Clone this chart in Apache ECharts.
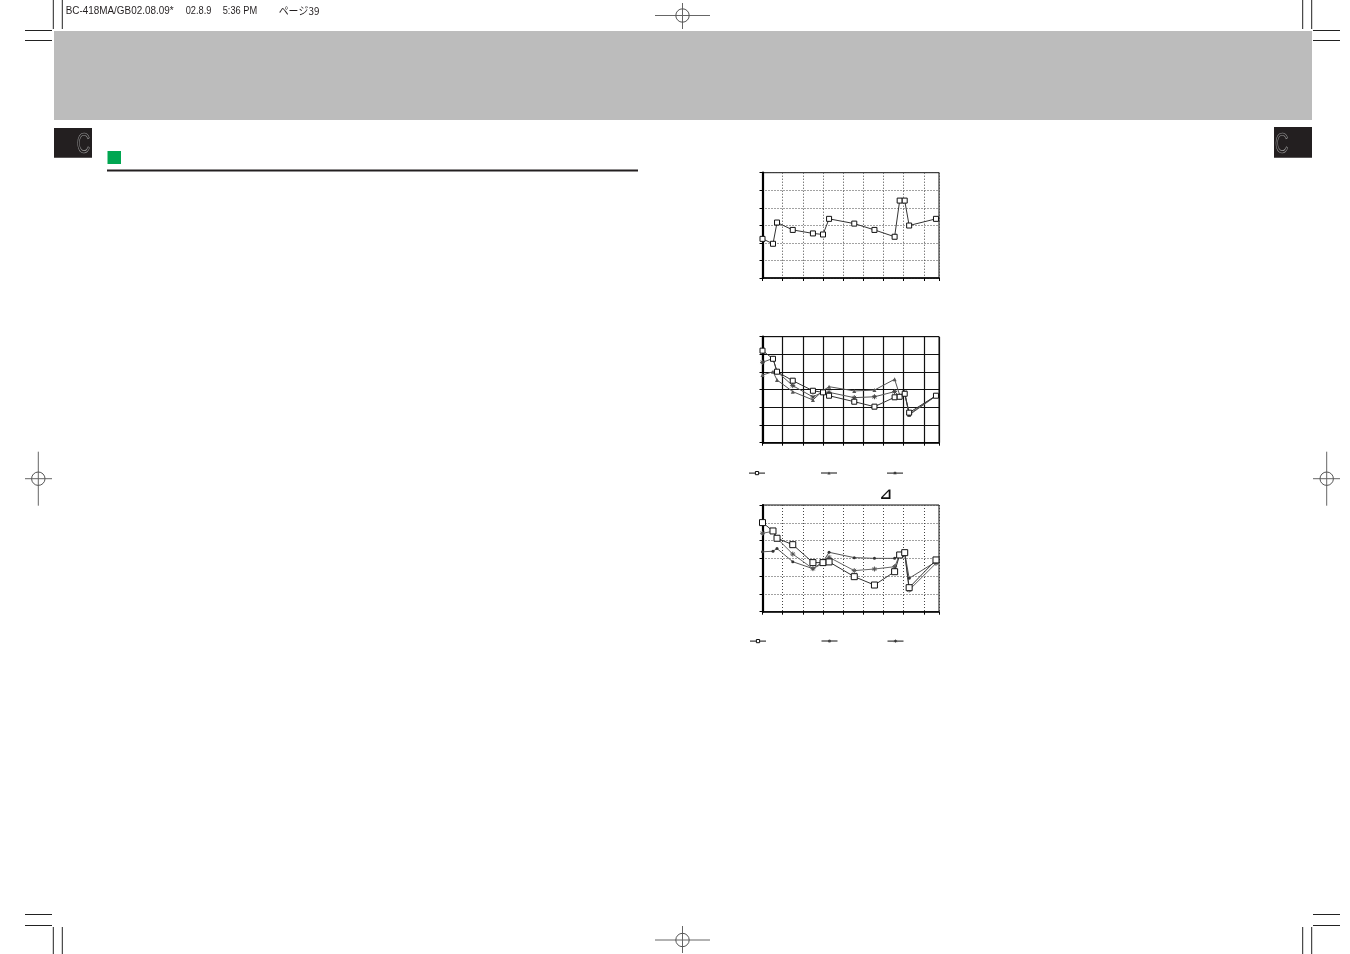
<!DOCTYPE html>
<html><head><meta charset="utf-8">
<script src="https://cdn.jsdelivr.net/npm/echarts@6/dist/echarts.min.js"></script>
<style>html,body{margin:0;padding:0;background:#fff;}#c{width:1350px;height:954px;}</style>
</head><body><div id="c"></div>
<script>
// ---- data ----
const xPositions = [0, 0.52, 0.72, 1.5, 2.5, 3.0, 3.3, 4.55, 5.55, 6.55, 6.8, 7.05, 7.27, 8.6];
const xTicks = [0, 1, 2, 3, 4, 5, 6, 7, 8];
const yTicks = [0, 1, 2, 3, 4, 5, 6];

const chart1Values = [2.23, 1.95, 3.16, 2.74, 2.54, 2.48, 3.37, 3.10, 2.74, 2.35, 4.41, 4.41, 2.99, 3.37];

const chart2SquareValues = [5.21, 4.75, 4.02, 3.51, 2.94, 2.85, 2.66, 2.32, 2.04, 2.57, 2.60, 2.77, 1.70, 2.66];
const chart2PlusValues   = [3.83, 4.02, 3.55, 2.89, 2.42, 2.95, 3.17, 2.93, 2.98, 3.59, 2.70, 2.80, 1.57, 2.64];
const chart2CrossValues  = [4.55, 4.77, 4.02, 3.23, 2.59, 2.88, 2.85, 2.55, 2.60, 2.89, 2.60, 2.85, 1.61, 2.66];

const chart3SquareValues = [5.01, 4.54, 4.13, 3.77, 2.76, 2.76, 2.80, 1.97, 1.50, 2.25, 3.19, 3.32, 1.35, 2.91];
const chart3DotValues    = [3.37, 3.40, 3.55, 2.81, 2.42, 2.81, 3.34, 3.04, 3.00, 3.00, 3.23, 3.32, 1.88, 2.81];
const chart3CrossValues  = [4.41, 4.52, 4.13, 3.24, 2.42, 2.72, 3.06, 2.31, 2.40, 2.53, 3.19, 3.29, 1.22, 2.72];

const headerTexts = ['BC-418MA/GB02.08.09*', '02.8.9', '5:36 PM', 'ページ39'];
const chapterLetter = 'C';
const deltaMark = '⊿';

// ---- build ----
const pts = vals => vals.map((v, i) => [xPositions[i], v]);
const xMin = xTicks[0], xMax = 8.75, yMin = yTicks[0], yMax = yTicks[yTicks.length - 1];

const grids = [
  {left: 762.5, top: 172.7, width: 176.5, height: 105.3},
  {left: 762.5, top: 336.7, width: 176.5, height: 106},
  {left: 762.5, top: 505,   width: 176.5, height: 106.7}
].map(g => Object.assign(g, {show: true, borderColor: '#111', borderWidth: 1, backgroundColor: 'transparent'}));

const dotted = {color: '#444', width: 1, type: [1, 2]};
const solid = {color: '#111', width: 1.2, type: 'solid'};
const splitStyles = [dotted, solid, dotted];

const xAxes = splitStyles.map((s, i) => ({
  gridIndex: i, type: 'value', min: xMin, max: xMax, interval: 1,
  axisLine: {show: true, onZero: false, lineStyle: {color: '#000', width: 1.5}},
  axisTick: {show: true, inside: false, length: 3, lineStyle: {color: '#000', width: 1}},
  axisLabel: {show: false},
  splitLine: {show: true, lineStyle: s}
}));
const yAxes = splitStyles.map((s, i) => ({
  gridIndex: i, type: 'value', min: yMin, max: yMax, interval: 1,
  axisLine: {show: true, onZero: false, lineStyle: {color: '#000', width: 2.2}},
  axisTick: {show: true, inside: false, length: 3, lineStyle: {color: '#000', width: 1}},
  axisLabel: {show: false},
  splitLine: {show: true, lineStyle: s}
}));

const squareSym = (size, z) => ({
  symbol: 'rect', symbolSize: size,
  itemStyle: {color: '#fff', borderColor: '#111', borderWidth: 1},
  lineStyle: {color: '#333', width: 1}, z: z
});
const triPath = 'path://M0,10 L5,0 L10,10 Z';
const crossPath = 'path://M5,0 L5,10 M0,5 L10,5 M1.5,1.5 L8.5,8.5 M8.5,1.5 L1.5,8.5';

const series = [
  Object.assign({name: 's1', type: 'line', xAxisIndex: 0, yAxisIndex: 0, data: pts(chart1Values)}, squareSym(5, 5)),

  {name: 'c2plus', type: 'line', xAxisIndex: 1, yAxisIndex: 1, data: pts(chart2PlusValues),
   symbol: triPath, symbolSize: 4, itemStyle: {color: '#555'}, lineStyle: {color: '#555', width: 1}, z: 3},
  {name: 'c2cross', type: 'line', xAxisIndex: 1, yAxisIndex: 1, data: pts(chart2CrossValues),
   symbol: crossPath, symbolSize: 5, itemStyle: {color: 'none', borderColor: '#444', borderWidth: 1}, lineStyle: {color: '#555', width: 1}, z: 3},
  Object.assign({name: 'c2sq', type: 'line', xAxisIndex: 1, yAxisIndex: 1, data: pts(chart2SquareValues)}, squareSym(5, 5)),

  {name: 'c3dot', type: 'line', xAxisIndex: 2, yAxisIndex: 2, data: pts(chart3DotValues),
   symbol: 'circle', symbolSize: 3, itemStyle: {color: '#333'}, lineStyle: {color: '#555', width: 1}, z: 3},
  {name: 'c3cross', type: 'line', xAxisIndex: 2, yAxisIndex: 2, data: pts(chart3CrossValues),
   symbol: crossPath, symbolSize: 5, itemStyle: {color: 'none', borderColor: '#555', borderWidth: 1}, lineStyle: {color: '#666', width: 1}, z: 3},
  Object.assign({name: 'c3sq', type: 'line', xAxisIndex: 2, yAxisIndex: 2, data: pts(chart3SquareValues)}, squareSym(6, 5))
];
series.forEach(s => { s.animation = false; });

const legendDef = (name, cx, cy, itemStyle) => ({
  data: [name], left: cx - 8, top: cy - 2, itemWidth: 16, itemHeight: 4,
  padding: 0, itemGap: 0, formatter: () => '', selectedMode: false,
  lineStyle: {color: '#111', width: 1},
  itemStyle: itemStyle
});
const sqLegendStyle = {color: '#fff', borderColor: '#111', borderWidth: 1};
const crossLegendStyle = {color: 'none', borderColor: '#333', borderWidth: 0.8};
const fillLegendStyle = {color: '#444', borderWidth: 0};
const legends = [
  legendDef('c2sq', 756.5, 473, sqLegendStyle), legendDef('c2plus', 828.5, 473, fillLegendStyle), legendDef('c2cross', 894.5, 471, crossLegendStyle),
  legendDef('c3sq', 757.5, 641, sqLegendStyle), legendDef('c3dot', 829, 641, fillLegendStyle), legendDef('c3cross', 895, 639, crossLegendStyle)
];

// decorations
const L = (x1, y1, x2, y2, c, w) => ({type: 'line', silent: true, shape: {x1, y1, x2, y2}, style: {stroke: c || '#222', lineWidth: w || 1}});
const regMark = (cx, cy, hx1, hx2, vy1, vy2) => [
  L(hx1, cy, hx2, cy, '#666', 1), L(cx, vy1, cx, vy2, '#666', 1),
  {type: 'circle', silent: true, shape: {cx, cy, r: 6.7}, style: {fill: 'none', stroke: '#555', lineWidth: 1}}
];
const txt = (x, y, t, font, extra, sx) => ({type: 'text', silent: true, x, y, scaleX: sx || 1,
  style: Object.assign({text: t, font: font, fill: '#231f20', align: 'left', verticalAlign: 'middle'}, extra || {})});

const headerFont = '11px "Liberation Sans", sans-serif';
const cFont = '30px "Liberation Sans", sans-serif';
const graphic = [
  {type: 'rect', silent: true, shape: {x: 54, y: 31, width: 1258, height: 89}, style: {fill: '#bcbcbc'}},
  {type: 'rect', silent: true, shape: {x: 54, y: 128, width: 38, height: 29.7}, style: {fill: '#231f20'}},
  {type: 'rect', silent: true, shape: {x: 1274, y: 127, width: 38, height: 30.7}, style: {fill: '#231f20'}},
  txt(83.5, 144.5, chapterLetter, cFont, {fill: 'none', stroke: '#9a9a9a', lineWidth: 0.7, align: 'center'}, 0.62),
  txt(1281.7, 144.5, chapterLetter, cFont, {fill: 'none', stroke: '#9a9a9a', lineWidth: 0.7, align: 'center'}, 0.62),
  {type: 'rect', silent: true, shape: {x: 107.5, y: 151, width: 13.5, height: 13}, style: {fill: '#00a651'}},
  L(107, 170.5, 638, 170.5, '#231f20', 2),
  txt(65.7, 10.5, headerTexts[0], headerFont, null, 0.9),
  txt(185.7, 10.5, headerTexts[1], headerFont, null, 0.84),
  txt(222.7, 10.5, headerTexts[2], headerFont, null, 0.84),
  txt(278.7, 10.5, headerTexts[3], '11px "Noto Sans CJK JP", sans-serif', null, 0.9),
  txt(885.7, 495.5, deltaMark, 'bold 15px "DejaVu Sans", sans-serif', {align: 'center', fill: '#111'}),
  // crop marks
  L(53.3, 0, 53.3, 29), L(62.3, 0, 62.3, 29), L(25, 30.5, 52, 30.5), L(25, 40.5, 52, 40.5),
  L(1302.7, 0, 1302.7, 29), L(1311.7, 0, 1311.7, 29), L(1313, 30.5, 1340, 30.5), L(1313, 40.5, 1340, 40.5),
  L(53.3, 927, 53.3, 954), L(62.3, 927, 62.3, 954), L(25, 925.5, 52, 925.5), L(25, 914.5, 52, 914.5),
  L(1302.7, 927, 1302.7, 954), L(1311.7, 927, 1311.7, 954), L(1313, 925.5, 1340, 925.5), L(1313, 914.5, 1340, 914.5)
].concat(
  regMark(682.5, 15.5, 655, 710, 3, 29),
  regMark(682.5, 940, 655, 710, 926, 953),
  regMark(38.3, 478.7, 25, 52, 451.7, 505.7),
  regMark(1326.7, 478.7, 1313, 1340, 451.7, 505.7)
);

const chart = echarts.init(document.getElementById('c'), null, {renderer: 'canvas'});
chart.setOption({
  animation: false,
  backgroundColor: '#fff',
  grid: grids,
  xAxis: xAxes,
  yAxis: yAxes,
  legend: legends,
  series: series,
  graphic: graphic
});
</script></body></html>
